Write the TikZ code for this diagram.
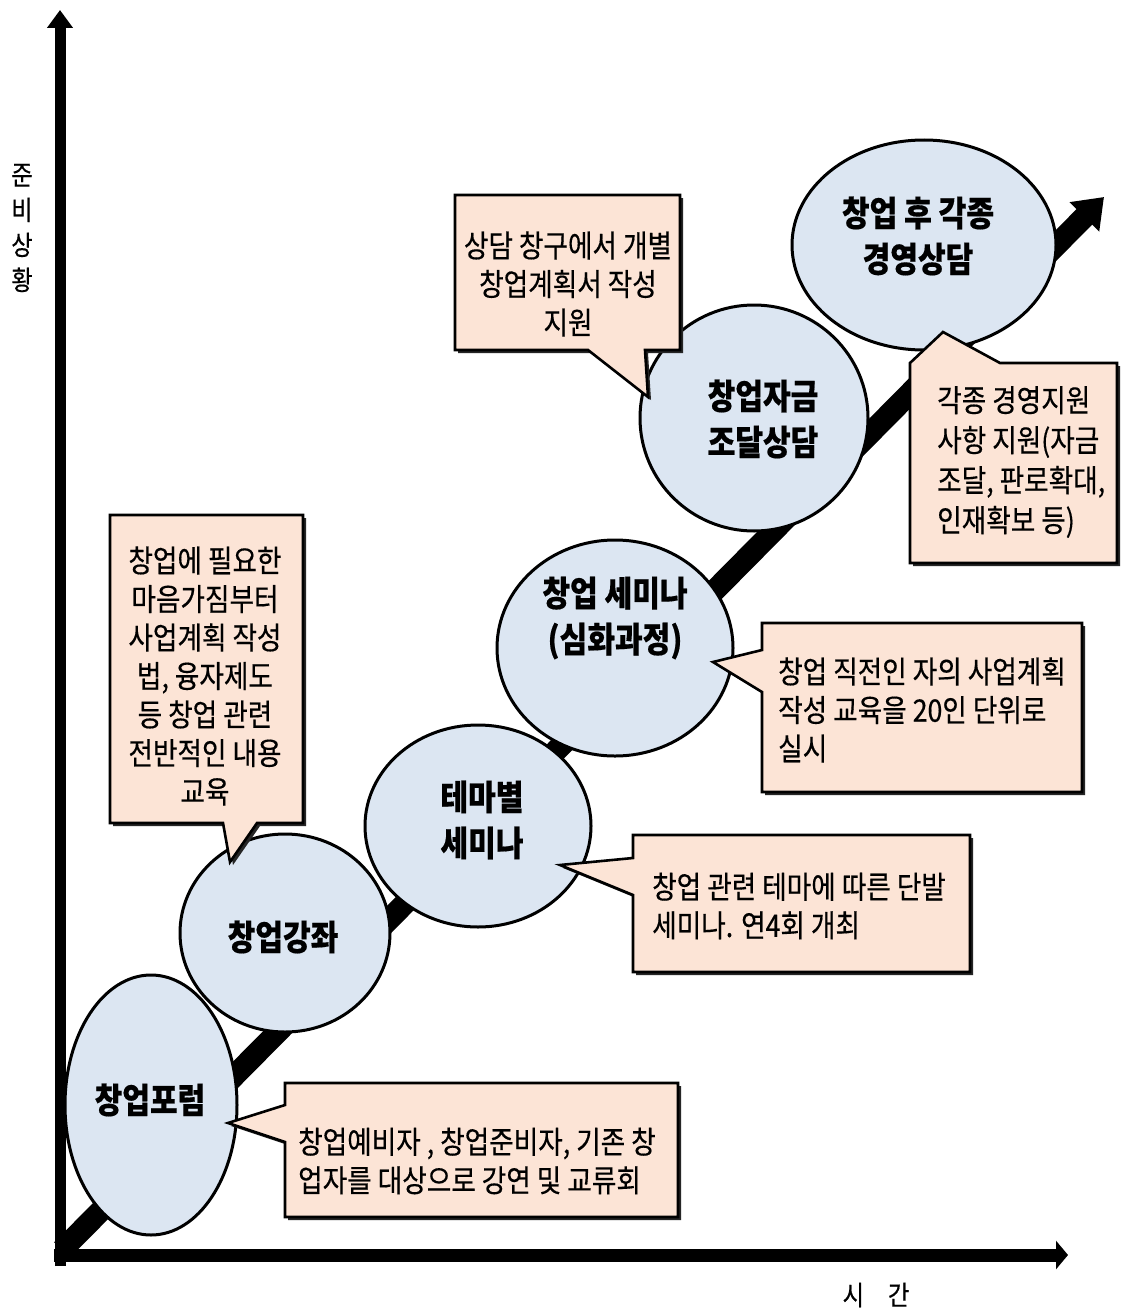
\documentclass[tikz,border=0pt]{standalone}
\usepackage{fontspec}
\setmainfont{Noto Sans CJK KR}[FakeStretch=0.86, FakeBold=0.4]
\usetikzlibrary{arrows.meta,shapes.geometric}
\definecolor{ellfill}{HTML}{DCE6F2}
\definecolor{boxfill}{HTML}{FCE4D6}
\newcommand\myellfont{\bfseries\fontsize{35}{46}\selectfont}
\newcommand\myboxfont{\fontsize{31}{38.5}\selectfont}
\newcommand\myboxfontB{\fontsize{31}{40}\selectfont}
\newcommand\myaxfont{\fontsize{27}{35}\selectfont}
\begin{document}
\begin{tikzpicture}[x=1pt,y=-1pt,
  ell/.style={draw=black, line width=3pt, fill=ellfill, ellipse, inner sep=0pt},
  ellt/.style={font=\myellfont, align=center, inner sep=0pt},
  callout/.style={draw=black, line width=2.6pt, fill=boxfill, line join=miter},
  calloutshadow/.style={fill=black!85, shift={(3,3)}},
  boxt/.style={font=\myboxfont, inner sep=0pt},
  axislab/.style={font=\myaxfont, inner sep=0pt, align=center}]
\useasboundingbox (0,0) rectangle (1122,1311);
\fill[white] (0,0) rectangle (1122,1311);

% diagonal progress arrow
\coordinate (dstart) at (62,1250);
\coordinate (dend) at (1104,197);
\draw[line width=22pt, -{Triangle[width=40pt,length=28pt]}] (dstart) -- (dend);

% axes
\coordinate (origin) at (60,1266);
\coordinate (ytop) at (60,10);
\coordinate (xleft) at (54,1255);
\coordinate (xright) at (1068,1255);
\draw[line width=11pt, -{Triangle[width=25pt,length=18pt]}] (origin) -- (ytop);
\draw[line width=13pt, -{Triangle[width=28pt,length=12pt]}] (xleft) -- (xright);

\node[axislab] (ylab) at (22,228) {준\\비\\상\\황};
\node[axislab] (xlab) at (876,1295) {시\hspace{24pt}간};

% ellipses
\node[ell, minimum width=172pt, minimum height=260pt] (e1) at (151,1105) {};
\node[ell, minimum width=210pt, minimum height=198pt] (e2) at (285,933) {};
\node[ell, minimum width=226pt, minimum height=202pt] (e3) at (478,826) {};
\node[ell, minimum width=236pt, minimum height=216pt] (e4) at (615,648) {};
\node[ell, minimum width=264pt, minimum height=210pt] (e6) at (924,245) {};
\node[ell, minimum width=228pt, minimum height=226pt] (e5) at (754,418) {};

\node[ellt] (t1) at (150,1100) {창업포럼};
\node[ellt] (t2) at (283,937) {창업강좌};
\node[ellt] (t3) at (482,820) {테마별\\세미나};
\node[ellt] (t4) at (615,618) {창업 세미나\\(심화과정)};
\node[ellt] (t5) at (763,419) {창업자금\\조달상담};
\node[ellt] (t6) at (918,236) {창업 후 각종\\경영상담};

% callouts
\path[calloutshadow] (455,195) -- (680,195) -- (680,350) -- (645,350) -- (648,397) -- (588,350) -- (455,350) -- cycle;
\path[callout] (455,195) -- (680,195) -- (680,350) -- (645,350) -- (648,397) -- (588,350) -- (455,350) -- cycle;

\path[calloutshadow] (910,363) -- (943,332) -- (1000,363) -- (1117,363) -- (1117,563) -- (910,563) -- cycle;
\path[callout] (910,363) -- (943,332) -- (1000,363) -- (1117,363) -- (1117,563) -- (910,563) -- cycle;

\path[calloutshadow] (110,515) -- (303,515) -- (303,823) -- (257,823) -- (230,862) -- (223,823) -- (110,823) -- cycle;
\path[callout] (110,515) -- (303,515) -- (303,823) -- (257,823) -- (230,862) -- (223,823) -- (110,823) -- cycle;

\path[calloutshadow] (762,623) -- (1082,623) -- (1082,792) -- (762,792) -- (762,692) -- (713,662) -- (762,650) -- cycle;
\path[callout] (762,623) -- (1082,623) -- (1082,792) -- (762,792) -- (762,692) -- (713,662) -- (762,650) -- cycle;

\path[calloutshadow] (633,835) -- (970,835) -- (970,972) -- (633,972) -- (633,895) -- (560,865) -- (633,858) -- cycle;
\path[callout] (633,835) -- (970,835) -- (970,972) -- (633,972) -- (633,895) -- (560,865) -- (633,858) -- cycle;

\path[calloutshadow] (285,1083) -- (678,1083) -- (678,1217) -- (285,1217) -- (285,1142) -- (228,1123) -- (285,1105) -- cycle;
\path[callout] (285,1083) -- (678,1083) -- (678,1217) -- (285,1217) -- (285,1142) -- (228,1123) -- (285,1105) -- cycle;

\node[boxt, align=center] (ta) at (568,284) {상담 창구에서 개별\\창업계획서 작성\\지원};
\node[boxt, font=\myboxfontB, align=left, anchor=west] (tb) at (937,462) {각종 경영지원\\사항 지원(자금\\조달, 판로확대,\\인재확보 등)};
\node[boxt, align=center] (tc) at (205,676) {창업에 필요한\\마음가짐부터\\사업계획 작성\\법, 융자제도\\등 창업 관련\\전반적인 내용\\교육};
\node[boxt, align=left, anchor=west] (td) at (778,710) {창업 직전인 자의 사업계획\\작성 교육을 20인 단위로\\실시};
\node[boxt, align=left, anchor=west] (te) at (652,906) {창업 관련 테마에 따른 단발\\세미나. 연4회 개최};
\node[boxt, align=left, anchor=west] (tf) at (298,1161) {창업예비자 , 창업준비자, 기존 창\\업자를 대상으로 강연 및 교류회};
\end{tikzpicture}
\end{document}
